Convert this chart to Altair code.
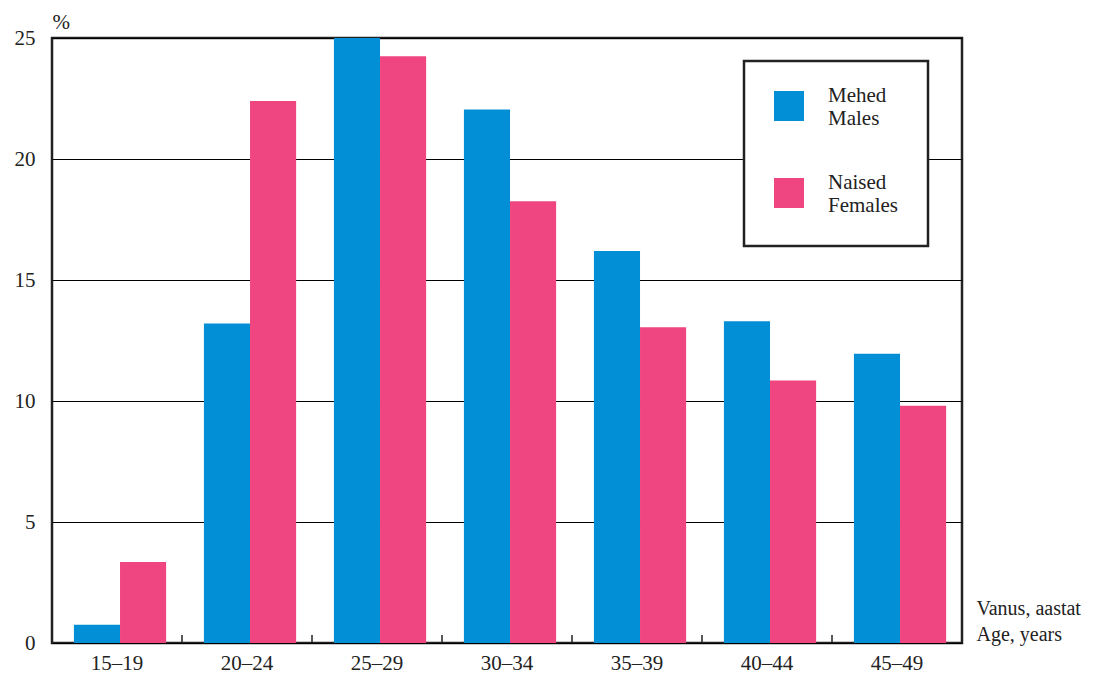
import altair as alt
import pandas as pd

categories = ["15–19", "20–24", "25–29", "30–34", "35–39", "40–44", "45–49"]
males = [0.75, 13.2, 25.0, 22.05, 16.2, 13.3, 11.95]
females = [3.35, 22.4, 24.25, 18.25, 13.05, 10.85, 9.8]
series = ["Mehed|Males", "Naised|Females"]
colors = ["#028fd6", "#ef4580"]
y_ticks = [0, 5, 10, 15, 20, 25]
x_title = ["Vanus, aastat", "Age, years"]
y_title = "%"

rows = []
for c, m, f in zip(categories, males, females):
    rows.append({"age": c, "sex": series[0], "pct": m})
    rows.append({"age": c, "sex": series[1], "pct": f})
df = pd.DataFrame(rows)
bounds = pd.DataFrame({"age": categories[1:]})

FONT = "Liberation Serif"
INK = "#222222"
W, H = 910, 605

xscale = alt.Scale(domain=categories, paddingInner=0, paddingOuter=0)
x_axis = alt.Axis(
    title=x_title, labelAngle=0, ticks=False, domain=False, grid=False,
    labelPadding=9, labelFontSize=21, labelFont=FONT, labelColor=INK,
    titleFontSize=20, titleFont=FONT, titleColor=INK, titleFontWeight="normal",
    titleAngle=0, titleAlign="left", titleBaseline="top",
    titleX=924, titleY=-45, titleLineHeight=26,
)

bars = alt.Chart(df).mark_bar().encode(
    x=alt.X("age:N", scale=xscale, sort=categories, axis=x_axis),
    xOffset=alt.XOffset("sex:N", sort=series,
                        scale=alt.Scale(domain=series, paddingInner=0, paddingOuter=0.41, align=0.58)),
    y=alt.Y(
        "pct:Q", scale=alt.Scale(domain=[0, 25], nice=False),
        axis=alt.Axis(
            title=y_title, values=y_ticks, ticks=False, domain=False,
            grid=True, gridColor="#000000", gridWidth=1, gridOpacity=1,
            labelPadding=17, labelFontSize=21, labelFont=FONT, labelColor=INK,
            titleFontSize=21, titleFont=FONT, titleColor=INK, titleFontWeight="normal",
            titleAngle=0, titleAlign="left", titleBaseline="alphabetic",
            titleX=0, titleY=-10,
        ),
    ),
    color=alt.Color(
        "sex:N", scale=alt.Scale(domain=series, range=colors),
        legend=alt.Legend(
            title=None, orient="none", legendX=692, legendY=23,
            labelExpr="split(datum.label, '|')", labelBaseline="bottom",
            symbolType="square", symbolSize=900, symbolStrokeWidth=0, symbolOpacity=1,
            labelFontSize=21, labelFont=FONT, labelColor=INK, labelOffset=24,
            padding=30, rowPadding=43, fillColor="white", strokeColor=INK,
        ),
    ),
)

ticks = alt.Chart(bounds).mark_rule(color=INK, strokeWidth=1.5).encode(
    x=alt.X("age:N", bandPosition=0, scale=xscale, sort=categories, axis=x_axis),
    y=alt.value(H),
    y2=alt.value(H - 8),
)

chart = alt.layer(bars, ticks).properties(
    width=W, height=H,
    autosize=alt.AutoSizeParams(type="none"),
    padding={"left": 44, "top": 30, "right": 125, "bottom": 31},
).configure_view(stroke=INK, strokeWidth=2.5).configure_legend(strokeWidth=2.5)

chart.save("out.html", embed_options={"renderer": "svg", "actions": False})
